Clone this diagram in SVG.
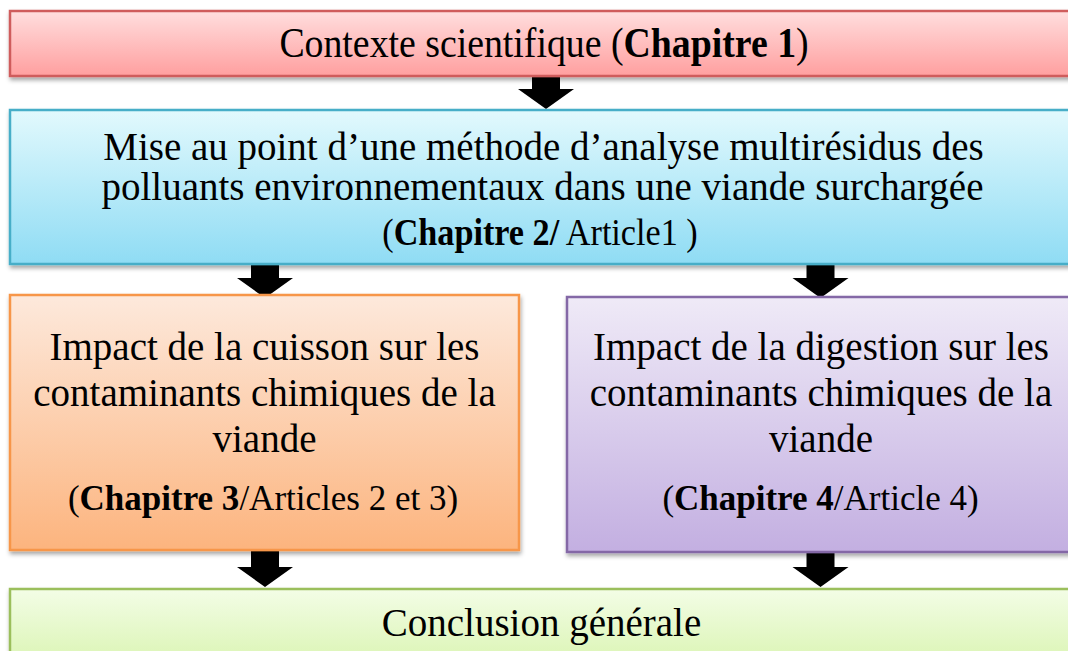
<svg xmlns="http://www.w3.org/2000/svg" width="1068" height="651" viewBox="0 0 1068 651">
<defs>
<linearGradient id="gRed" x1="0" y1="0" x2="0" y2="1"><stop offset="0" stop-color="#ffdede"/><stop offset="1" stop-color="#ff9f9f"/></linearGradient>
<linearGradient id="gBlue" x1="0" y1="0" x2="0" y2="1"><stop offset="0" stop-color="#e2f9fd"/><stop offset="1" stop-color="#8fdcf4"/></linearGradient>
<linearGradient id="gOrange" x1="0" y1="0" x2="0" y2="1"><stop offset="0" stop-color="#fde9dc"/><stop offset="1" stop-color="#fcb47e"/></linearGradient>
<linearGradient id="gPurple" x1="0" y1="0" x2="0" y2="1"><stop offset="0" stop-color="#efeaf7"/><stop offset="1" stop-color="#c3afe1"/></linearGradient>
<linearGradient id="gGreen" x1="0" y1="0" x2="0" y2="1"><stop offset="0" stop-color="#f3fde6"/><stop offset="1" stop-color="#d9f4b0"/></linearGradient>
<filter id="sh" x="-5%" y="-10%" width="115%" height="130%"><feDropShadow dx="1" dy="3" stdDeviation="2" flood-color="#000" flood-opacity="0.35"/></filter>
<path id="arrow" d="M-14,0 H14 V16 H28 L0,36 L-28,16 H-14 Z"/>
</defs>
<style>
text{font-family:"Liberation Serif","Times New Roman",serif;font-size:39px;fill:#000;text-anchor:middle}
.b{font-weight:bold}
.chap{font-size:35px}
.box{stroke-width:2.5;filter:url(#sh)}
</style>
<g id="connectors" fill="#000">
<use href="#arrow" x="546" y="73"/>
<use href="#arrow" x="265" y="262"/>
<use href="#arrow" x="820.5" y="262"/>
<use href="#arrow" x="265" y="551"/>
<use href="#arrow" x="820.5" y="551"/>
</g>
<g id="n1">
<rect class="box" x="10" y="11" width="1080" height="65" fill="url(#gRed)" stroke="#cf5b5b"/>
<text transform="translate(544,57) scale(0.9,1)" style="font-size:42px">Contexte scientifique (<tspan class="b">Chapitre 1</tspan>)</text>
</g>
<g id="n2">
<rect class="box" x="10" y="110" width="1080" height="154" fill="url(#gBlue)" stroke="#46aec8"/>
<text x="543.5" y="160">Mise au point d’une méthode d’analyse multirésidus des</text>
<text x="542.5" y="200">polluants environnementaux dans une viande surchargée</text>
<text transform="translate(540,245) scale(0.9,1)" style="font-size:38px">(<tspan class="b">Chapitre 2/</tspan> Article1 )</text>
</g>
<g id="n3">
<rect class="box" x="10" y="295" width="509" height="255" fill="url(#gOrange)" stroke="#f7964a"/>
<text x="264.5" y="360">Impact de la cuisson sur les</text>
<text x="264.5" y="406">contaminants chimiques de la</text>
<text x="264.5" y="452">viande</text>
<text class="chap" x="263" y="510">(<tspan class="b">Chapitre 3</tspan>/Articles 2 et 3)</text>
</g>
<g id="n4">
<rect class="box" x="567" y="297" width="507" height="255" fill="url(#gPurple)" stroke="#8467a6"/>
<text x="821" y="360">Impact de la digestion sur les</text>
<text x="821" y="406">contaminants chimiques de la</text>
<text x="821" y="452">viande</text>
<text class="chap" x="820.5" y="510">(<tspan class="b">Chapitre 4</tspan>/Article 4)</text>
</g>
<g id="n5">
<rect class="box" x="10" y="589" width="1080" height="80" fill="url(#gGreen)" stroke="#9bbf5c"/>
<text x="541.5" y="636">Conclusion générale</text>
</g>
</svg>
